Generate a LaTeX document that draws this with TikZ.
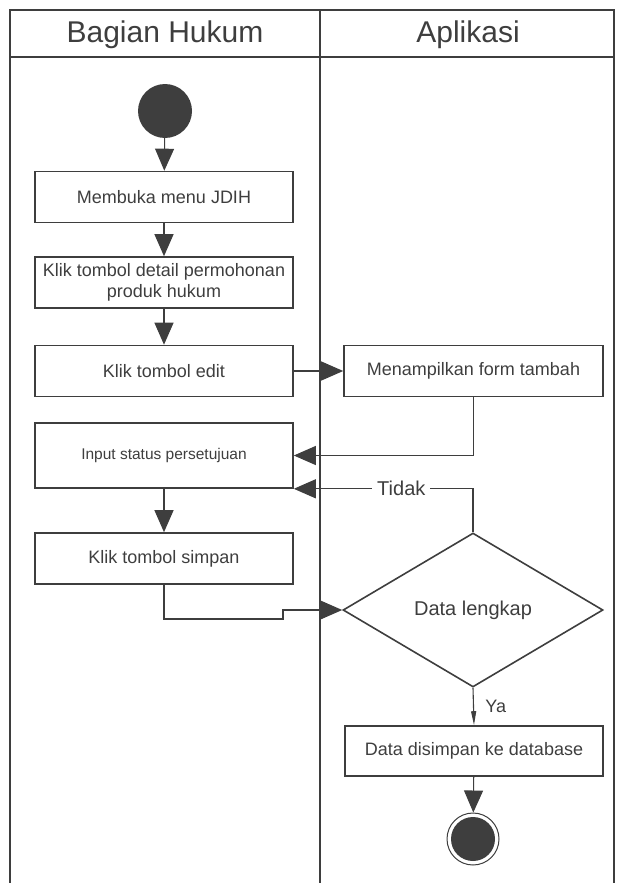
\documentclass[tikz,border=0pt]{standalone}
\usepackage{fontspec}
\setmainfont{Liberation Sans}
\usepackage{tikz}
\usetikzlibrary{
    shapes.geometric,
    arrows.meta,
    positioning,
    calc
}
\definecolor{inkgray}{RGB}{62,62,62}

\begin{document}
\begin{tikzpicture}[x=1pt,y=-1pt,
    lane/.style={draw=inkgray,line width=1.8pt},
    actbox/.style={draw=inkgray,line width=1.6pt,rectangle,minimum width=258pt,minimum height=51pt,
        inner sep=2pt,align=center,text=inkgray,font=\fontsize{18}{21}\selectfont},
    decide/.style={draw=inkgray,line width=1.6pt,diamond,aspect=1.7,inner sep=0pt,
        minimum width=260pt,minimum height=154pt,text=inkgray,font=\fontsize{20}{24}\selectfont},
    flow/.style={draw=inkgray,line width=1.1pt,-{Triangle[length=22pt,width=19pt]}},
    guard/.style={fill=white,text=inkgray,inner sep=5pt,font=\fontsize{20}{24}\selectfont},
    startdot/.style={circle,fill=inkgray,inner sep=0pt,minimum size=54pt},
    endring/.style={circle,draw=inkgray,line width=1pt,inner sep=0pt,minimum size=52pt}
]
    \useasboundingbox (0,0) rectangle (617,883);

    % Swimlanes
    \draw[lane] (10,883) -- (10,10) -- (614,10) -- (614,883);
    \draw[lane] (10,57) -- (614,57);
    \draw[lane] (320,10) -- (320,883);
    \node[text=inkgray,font=\fontsize{30}{36}\selectfont] (hukum) at (165,35) {Bagian Hukum};
    \node[text=inkgray,font=\fontsize{30}{36}\selectfont] (aplikasi) at (468,35) {Aplikasi};

    % Bagian Hukum activities
    \node[startdot] (start) at (165,111) {};
    \node[actbox] (menu) at (164,197) {Membuka menu JDIH};
    \node[actbox] (detail) at (164,282.5) {Klik tombol detail permohonan\\produk hukum};
    \node[actbox] (edit) at (164,371) {Klik tombol edit};
    \node[actbox,minimum height=65pt,font=\fontsize{15.5}{18}\selectfont] (status) at (164,455.5) {Input status persetujuan};
    \node[actbox] (simpan) at (164,558.5) {Klik tombol simpan};

    % Aplikasi activities
    \node[actbox,minimum width=259pt] (tambah) at (473.5,371) {Menampilkan form tambah};
    \node[decide] (lengkap) at (473,610) {Data lengkap};
    \node[actbox,minimum height=50pt] (disimpan) at (474,751) {Data disimpan ke database};
    \node[endring] (stop) at (473,839) {};
    \node[circle,fill=inkgray,inner sep=0pt,minimum size=44pt] (stopdot) at (stop) {};

    % Flows
    \draw[flow] (start) -- (menu);
    \draw[flow] (menu) -- (detail);
    \draw[flow] (detail) -- (edit);
    \draw[flow] (edit.east) -- (tambah.west);
    \draw[flow] (tambah.south) |- (status.east);
    \draw[flow] (lengkap.north) |- node[guard,pos=0.7] {Tidak} (status.south east);
    \draw[flow] (status) -- (simpan);
    \coordinate (jog) at (283,619);
    \draw[flow] (simpan.south) |- (jog) |- (lengkap.west);
    \draw[flow,-{Triangle[length=14pt,width=5pt]}] (lengkap.south) -- node[right,xshift=8pt,text=inkgray,font=\fontsize{18}{21}\selectfont] {Ya} (disimpan.north);
    \draw[flow] (disimpan) -- (stop);
\end{tikzpicture}
\end{document}
